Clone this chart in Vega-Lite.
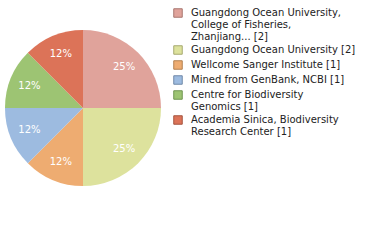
{
  "$schema": "https://vega.github.io/schema/vega-lite/v6.json",
  "width": 166,
  "height": 216,
  "padding": 0,
  "autosize": {"type": "pad"},
  "background": "white",
  "data": {
    "values": [
      {"idx": 1, "inst": "Guangdong Ocean University,\nCollege of Fisheries,\nZhanjiang... [2]", "count": 2, "pct": "25%"},
      {"idx": 2, "inst": "Guangdong Ocean University [2]", "count": 2, "pct": "25%"},
      {"idx": 3, "inst": "Wellcome Sanger Institute [1]", "count": 1, "pct": "12%"},
      {"idx": 4, "inst": "Mined from GenBank, NCBI [1]", "count": 1, "pct": "12%"},
      {"idx": 5, "inst": "Centre for Biodiversity\nGenomics [1]", "count": 1, "pct": "12%"},
      {"idx": 6, "inst": "Academia Sinica, Biodiversity\nResearch Center [1]", "count": 1, "pct": "12%"}
    ]
  },
  "encoding": {
    "theta": {"field": "count", "type": "quantitative", "stack": true},
    "order": {"field": "idx", "type": "quantitative"}
  },
  "layer": [
    {
      "mark": {"type": "arc", "outerRadius": 78, "strokeWidth": 0},
      "encoding": {
        "color": {
          "field": "inst",
          "type": "nominal",
          "sort": {"field": "idx"},
          "scale": {
            "domain": [
              "Guangdong Ocean University,\nCollege of Fisheries,\nZhanjiang... [2]",
              "Guangdong Ocean University [2]",
              "Wellcome Sanger Institute [1]",
              "Mined from GenBank, NCBI [1]",
              "Centre for Biodiversity\nGenomics [1]",
              "Academia Sinica, Biodiversity\nResearch Center [1]"
            ],
            "range": ["#e0a39b", "#dde29d", "#eeac71", "#9dbbe0", "#9dc473", "#dc7358"]
          },
          "legend": {
            "title": null,
            "orient": "none",
            "legendX": 173,
            "legendY": 8,
            "symbolType": "square",
            "symbolSize": 72,
            "symbolStrokeWidth": 1,
            "labelFont": "DejaVu Sans",
            "labelFontSize": 10,
            "labelColor": "#222222",
            "labelLimit": 300,
            "labelOffset": 8,
            "rowPadding": 1,
            "labelExpr": "split(datum.label, '\\n')"
          }
        },
        "stroke": {
          "field": "inst",
          "type": "nominal",
          "sort": {"field": "idx"},
          "scale": {
            "domain": [
              "Guangdong Ocean University,\nCollege of Fisheries,\nZhanjiang... [2]",
              "Guangdong Ocean University [2]",
              "Wellcome Sanger Institute [1]",
              "Mined from GenBank, NCBI [1]",
              "Centre for Biodiversity\nGenomics [1]",
              "Academia Sinica, Biodiversity\nResearch Center [1]"
            ],
            "range": ["#a8766f", "#a6aa70", "#b3804f", "#7089a8", "#6f9451", "#a5543f"]
          },
          "legend": {
            "title": null,
            "orient": "none",
            "legendX": 173,
            "legendY": 8,
            "symbolType": "square",
            "symbolSize": 72,
            "symbolStrokeWidth": 1,
            "labelFont": "DejaVu Sans",
            "labelFontSize": 10,
            "labelColor": "#222222",
            "labelLimit": 300,
            "labelOffset": 8,
            "rowPadding": 1,
            "labelExpr": "split(datum.label, '\\n')"
          }
        }
      }
    },
    {
      "mark": {"type": "text", "radius": 58, "color": "white", "font": "DejaVu Sans", "fontSize": 10, "letterSpacing": 1},
      "encoding": {
        "text": {"field": "pct", "type": "nominal"}
      }
    }
  ]
}
